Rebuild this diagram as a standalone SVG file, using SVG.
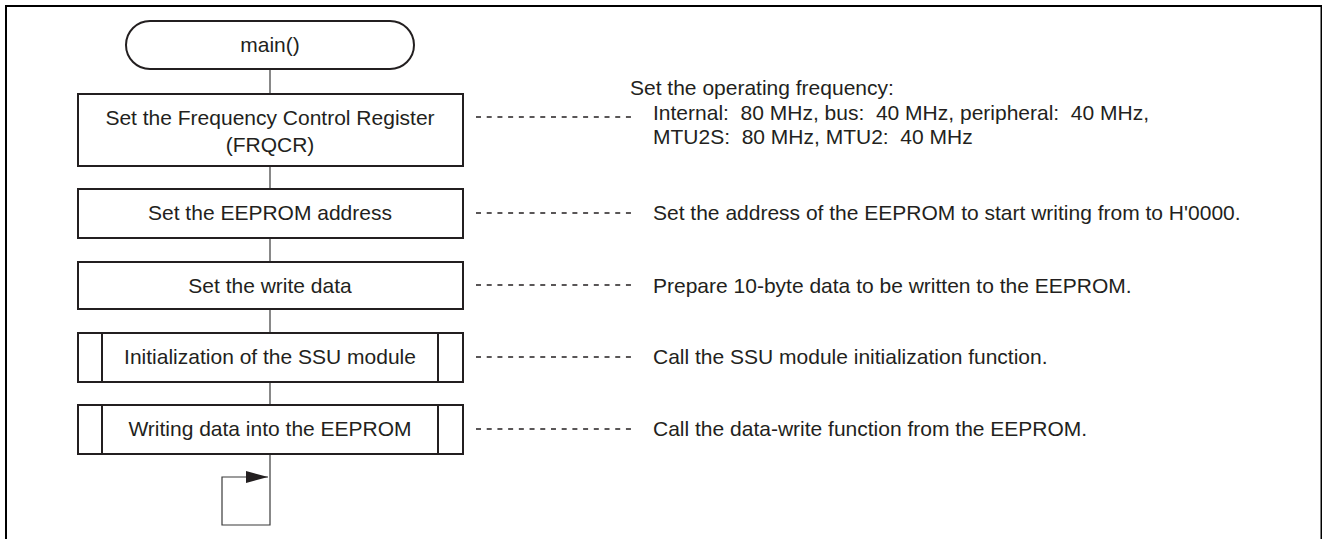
<svg xmlns="http://www.w3.org/2000/svg" width="1322" height="539" viewBox="0 0 1322 539">
<defs>
<style>
.frame{fill:none;stroke:#000;stroke-width:2}
.box{fill:#fff;stroke:#231f20;stroke-width:2}
.sub{fill:none;stroke:#231f20;stroke-width:2}
.conn{fill:none;stroke:#3a3a3a;stroke-width:1.2}
.dash{fill:none;stroke:#231f20;stroke-width:1.4;stroke-dasharray:5 5.71}
text{font-family:"Liberation Sans",Arial,sans-serif;font-size:21px;fill:#231f20;white-space:pre}
.c{text-anchor:middle}
</style>
<marker id="arr" viewBox="0 0 10 10" refX="10" refY="5" markerWidth="22" markerHeight="12" markerUnits="userSpaceOnUse" orient="auto" preserveAspectRatio="none">
<path d="M0,0 L10,5 L0,10 Z" fill="#231f20"/>
</marker>
</defs>
<rect class="frame" x="6" y="6" width="1315.5" height="560"/>
<g id="connectors">
<line class="conn" x1="270" y1="69" x2="270" y2="94"/>
<line class="conn" x1="270" y1="166" x2="270" y2="189"/>
<line class="conn" x1="270" y1="238" x2="270" y2="262"/>
<line class="conn" x1="270" y1="309" x2="270" y2="333"/>
<line class="conn" x1="270" y1="382" x2="270" y2="405"/>
<path class="conn" d="M270,454 V525 H222 V477 H268" marker-end="url(#arr)"/>
<line class="dash" x1="476" y1="117" x2="631" y2="117"/>
<line class="dash" x1="476" y1="213" x2="631" y2="213"/>
<line class="dash" x1="476" y1="285" x2="631" y2="285"/>
<line class="dash" x1="476" y1="357" x2="631" y2="357"/>
<line class="dash" x1="476" y1="429" x2="631" y2="429"/>
</g>
<g id="start">
<rect class="box" x="126" y="21" width="288" height="48" rx="24" ry="24"/>
<text class="c" x="270" y="52">main()</text>
</g>
<g id="frqcr">
<rect class="box" x="78" y="94" width="385" height="72"/>
<text class="c" x="270" y="125">Set the Frequency Control Register</text>
<text class="c" x="270" y="152">(FRQCR)</text>
</g>
<g id="eeprom-addr">
<rect class="box" x="78" y="189" width="385" height="49"/>
<text class="c" x="270" y="220">Set the EEPROM address</text>
</g>
<g id="write-data">
<rect class="box" x="78" y="262" width="385" height="47"/>
<text class="c" x="270" y="293">Set the write data</text>
</g>
<g id="ssu-init">
<rect class="box" x="78" y="333" width="385" height="49"/>
<line class="sub" x1="102" y1="333" x2="102" y2="382"/>
<line class="sub" x1="438" y1="333" x2="438" y2="382"/>
<text class="c" x="270" y="364">Initialization of the SSU module</text>
</g>
<g id="write-eeprom">
<rect class="box" x="78" y="405" width="385" height="49"/>
<line class="sub" x1="102" y1="405" x2="102" y2="454"/>
<line class="sub" x1="438" y1="405" x2="438" y2="454"/>
<text class="c" x="270" y="436">Writing data into the EEPROM</text>
</g>
<g id="notes">
<text x="630" y="95">Set the operating frequency:</text>
<text x="653" y="120">Internal:  80 MHz, bus:  40 MHz, peripheral:  40 MHz,</text>
<text x="653" y="144">MTU2S:  80 MHz, MTU2:  40 MHz</text>
<text x="653" y="220">Set the address of the EEPROM to start writing from to H'0000.</text>
<text x="653" y="293">Prepare 10-byte data to be written to the EEPROM.</text>
<text x="653" y="364">Call the SSU module initialization function.</text>
<text x="653" y="436">Call the data-write function from the EEPROM.</text>
</g>
</svg>
